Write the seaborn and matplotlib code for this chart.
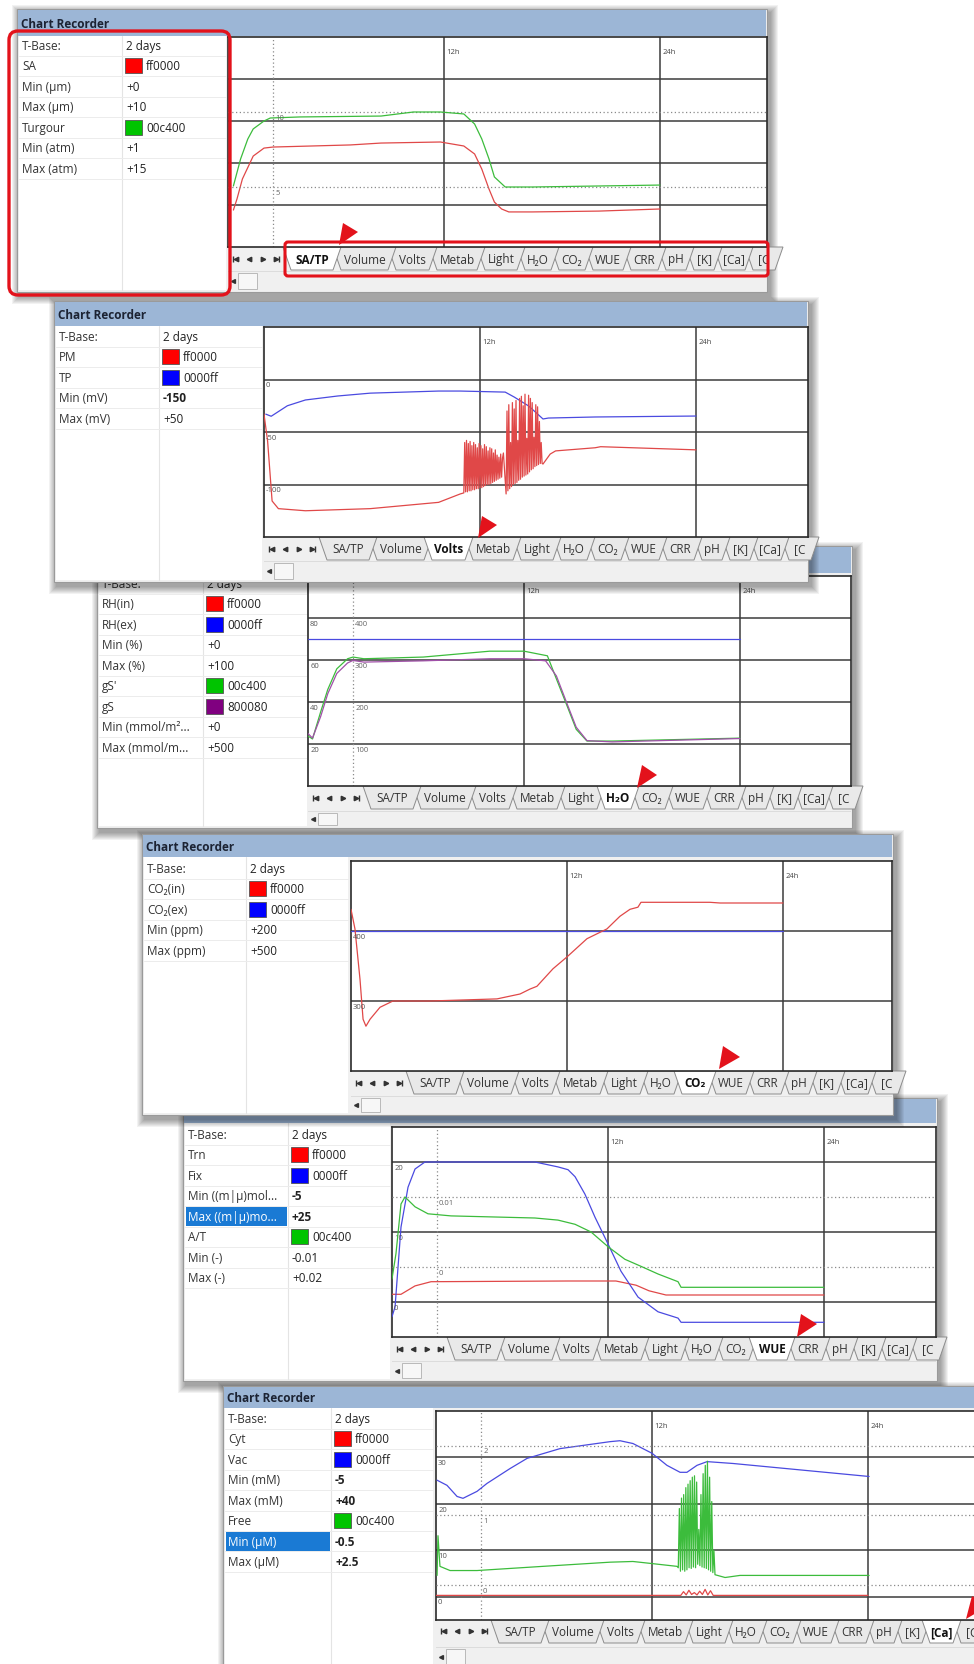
import numpy as np
import matplotlib
matplotlib.use("Agg")
import matplotlib.pyplot as plt
from matplotlib.patches import Rectangle, Polygon, FancyBboxPatch
import seaborn as sns

sns.set_style("white")
plt.rcParams["font.family"] = ["Open Sans", "DejaVu Sans"]

W, H = 974, 1665
PX_PER_H = 18.0

RED = "#e04848"
BLUE = "#4a4ae0"
GREEN = "#3cbc3c"
PURPLE = "#a050a8"
ANNOT = "#e3121b"

# ---------------- data (hours, value) ----------------
# SA/TP : SA in um, Turgour in atm
sa_h = [0.3, 0.5, 0.8, 1.4, 2.0, 2.5, 6.8, 8.5, 11.8, 13.1, 13.7, 14.1, 14.5, 14.8, 15.2, 15.6, 16.9, 20.6, 24.0]
sa_um = [1.76, 2.29, 3.24, 4.33, 4.71, 4.76, 4.86, 4.95, 5.0, 4.81, 4.43, 3.71, 2.76, 2.14, 1.81, 1.67, 1.67, 1.71, 1.81]
turg_h = [0.3, 0.7, 1.1, 1.4, 2.0, 2.35, 4.0, 8.5, 10.3, 11.8, 13.1, 13.7, 14.1, 14.5, 14.8, 15.4, 16.9, 24.0]
turg_atm = [5.07, 6.87, 8.2, 8.87, 9.4, 9.6, 9.67, 9.73, 10.0, 10.0, 9.87, 9.2, 8.2, 6.87, 5.67, 5.0, 5.0, 5.13]

# Volts : PM and TP in mV
tp_h = [0.1, 0.4, 1.3, 2.3, 4.1, 5.9, 9.7, 10.9, 13.4, 13.9, 14.7, 15.2, 15.5, 15.8, 18.4, 24.0]
tp_mv = [-33, -35, -25, -19.5, -15.7, -13, -11, -11, -12, -16.7, -25.2, -32.9, -37.6, -36.7, -35.7, -34.8]
pm_h = [0.0, 0.2, 0.45, 0.8, 2.3, 5.9, 9.7, 10.9,
        11.10, 11.15, 11.20, 11.25, 11.30, 11.35, 11.40, 11.45, 11.50, 11.55, 11.60, 11.65,
        11.70, 11.75, 11.80, 11.85, 11.90, 11.95, 12.00, 12.05, 12.10, 12.15, 12.20, 12.25,
        12.30, 12.35, 12.40, 12.45, 12.50, 12.55, 12.60, 12.65, 12.70, 12.75, 12.80, 12.85,
        12.90, 12.95, 13.00, 13.05, 13.10, 13.15, 13.20, 13.25, 13.30,
        13.45, 13.50, 13.55, 13.60, 13.65, 13.70, 13.75, 13.80, 13.85, 13.90, 13.95, 14.00,
        14.05, 14.10, 14.15, 14.20, 14.25, 14.30, 14.35, 14.40, 14.45, 14.50, 14.55, 14.60,
        14.65, 14.70, 14.75, 14.80, 14.85, 14.90, 14.95, 15.00, 15.05, 15.10, 15.15, 15.20,
        15.25, 15.30, 15.35, 15.40, 15.45,
        15.5, 15.9, 16.2, 18.4, 18.7, 24.0]
pm_mv = [-33, -58.6, -115.7, -123, -125, -123, -117, -109,
         -108, -60, -107, -58, -107, -61, -106, -59, -106, -63, -105, -60,
         -105, -62, -104, -65, -104, -61, -103, -63, -103, -66, -102, -62,
         -101, -64, -100, -68, -100, -65, -99, -66, -98, -70, -97, -67,
         -96, -72, -95, -74, -94, -71, -93, -75, -70,
         -109, -30, -106, -24, -104, -60, -102, -22, -100, -28, -99, -20,
         -98, -58, -96, -18, -95, -16, -93, -25, -92, -14, -91, -56,
         -90, -15, -88, -18, -86, -22, -85, -55, -83, -24, -82, -26,
         -81, -40, -80, -60, -80,
         -80.5, -71, -68, -65, -64, -67]

# H2O : RH(ex) in %, gS' and gS in mmol/m2/s
rhex_h = [0.0, 24.0]
rhex_pct = [70, 70]
gs1_h = [0.0, 0.25, 0.7, 1.1, 1.6, 2.2, 2.5, 3.1, 6.4, 10.1, 12.0, 13.3, 13.8, 14.4, 14.9, 15.5, 16.9, 24.0]
gs1_mmol = [119, 112, 176, 230, 279, 303, 307, 303, 307, 321, 321, 310, 255, 190, 135, 107, 107, 114]
gs_h = [0.0, 0.25, 0.7, 1.1, 1.6, 2.2, 2.5, 3.1, 6.4, 10.1, 12.0, 13.2, 13.8, 14.4, 14.9, 15.5, 16.9, 24.0]
gs_mmol = [125, 114, 165, 220, 268, 293, 299, 295, 298, 303, 303, 298, 262, 195, 140, 108, 105, 113]

# CO2 : ppm
co2ex_h = [0.0, 24.0]
co2ex_ppm = [400, 400]
co2in_h = [0, 0.22, 0.5, 0.67, 0.83, 1.06, 1.61, 2.33, 4.39, 8.11, 9.39, 9.94, 10.33, 11.22, 12.0,
           13.11, 14.22, 14.94, 15.5, 15.94, 16.11, 19.94, 20.5, 24.0]
co2in_ppm = [431, 403, 331, 274, 264, 274, 291, 300, 300, 303, 310, 317, 321, 346, 363,
             389, 403, 421, 431, 434, 441, 441, 440, 440]

# WUE : Trn and Fix in (m|u)mol, A/T ratio
fix_h = [0.0, 0.17, 0.5, 0.89, 1.28, 1.83, 7.94, 9.22, 9.78, 10.17, 10.72, 11.28, 12.0, 12.72, 13.67, 14.78, 15.89, 16.06, 24.0]
fix_val = [-2.1, -0.7, 10.7, 16.4, 19, 20, 20, 19.3, 18.9, 17.9, 15.4, 12.1, 8.3, 4.4, 0.7, -1.4, -2.3, -2.9, -2.9]
trn_h = [0.0, 0.5, 1.28, 2.17, 9.78, 12.44, 13.56, 14.28, 15.22, 24.0]
trn_val = [1.1, 1.1, 2.3, 2.9, 3.0, 3.0, 2.4, 1.6, 1.0, 1.0]
at_h = [0.0, 0.22, 0.5, 0.72, 1.28, 2.0, 3.28, 7.94, 9.22, 10.17, 11.06, 12.0, 12.94, 13.83, 14.78, 15.89, 16.06, 24.0]
at_val = [-0.0017, 0.0019, 0.009, 0.010, 0.0086, 0.0076, 0.0073, 0.0070, 0.0067, 0.0061, 0.0050,
          0.0029, 0.0011, 0.0001, -0.0010, -0.0021, -0.0029, -0.0029]

# [Ca] : Cyt and Vac in mM, Free in uM
vac_h = [0.06, 0.61, 1.17, 1.5, 2.28, 2.83, 4.11, 5.06, 6.89, 9.67, 10.22, 10.94, 12.0, 12.83, 13.56,
         13.94, 14.5, 15.06, 16.5, 24.06]
vac_mm = [25.1, 24.0, 21.6, 21.2, 22.7, 24.4, 27.6, 29.8, 31.9, 33.4, 33.6, 33.0, 30.9, 28.3, 26.8,
          26.8, 28.3, 29.1, 28.7, 25.9]
cyt_h = [0.0, 13.6, 13.75, 13.9, 14.05, 14.2, 14.35, 14.5, 14.65, 14.8, 14.95, 15.1, 15.25, 15.4, 24.0]
cyt_mm = [0.3, 0.3, 1.1, 0.4, 1.4, 0.5, 0.9, 0.4, 1.2, 0.5, 1.6, 0.4, 1.3, 0.3, 0.3]
free_h = [0.06, 0.11, 0.22, 0.78, 2.28, 5.94, 9.67, 10.94, 12.0, 13.39,
          13.46, 13.52, 13.58, 13.64, 13.70, 13.76, 13.82, 13.88, 13.94, 14.00, 14.06, 14.12,
          14.18, 14.24, 14.30, 14.36, 14.42, 14.48, 14.54, 14.60, 14.66, 14.72, 14.78, 14.84,
          14.90, 14.96, 15.02, 15.08, 15.14, 15.20, 15.26, 15.32, 15.38, 15.44, 15.50,
          16.06, 16.89, 24.06]
free_um = [0.14, 0.71, 0.27, 0.21, 0.21, 0.27, 0.33, 0.34, 0.31, 0.27,
           0.25, 1.10, 0.20, 1.25, 0.22, 1.30, 0.20, 1.40, 0.22, 1.45, 0.25, 1.50,
           0.24, 1.55, 0.26, 1.57, 0.25, 1.48, 0.30, 0.80, 0.28, 1.30, 0.26, 1.60,
           0.25, 1.72, 0.24, 1.78, 0.22, 1.55, 0.20, 1.20, 0.18, 0.50, 0.15,
           0.11, 0.14, 0.14]

tab_names = ["SA/TP", "Volume", "Volts", "Metab", "Light", "H₂O", "CO₂", "WUE", "CRR", "pH", "[K]", "[Ca]", "[C"]
tab_widths = [50, 55, 41, 48, 40, 34, 34, 38, 35, 28, 28, 31, 30]


def row(label, value, swatch=None, bold=False, hl=False):
    return (label, value, swatch, bold, hl)


rows_satp = [row("T-Base:", "2 days"), row("SA", "ff0000", "#ff0000"), row("Min (µm)", "+0"),
             row("Max (µm)", "+10"), row("Turgour", "00c400", "#00c400"), row("Min (atm)", "+1"),
             row("Max (atm)", "+15")]
rows_volts = [row("T-Base:", "2 days"), row("PM", "ff0000", "#ff0000"), row("TP", "0000ff", "#0000ff"),
              row("Min (mV)", "-150", bold=True), row("Max (mV)", "+50")]
rows_h2o = [row("T-Base:", "2 days"), row("RH(in)", "ff0000", "#ff0000"), row("RH(ex)", "0000ff", "#0000ff"),
            row("Min (%)", "+0"), row("Max (%)", "+100"), row("gS'", "00c400", "#00c400"),
            row("gS", "800080", "#800080"), row("Min (mmol/m²...", "+0"), row("Max (mmol/m...", "+500")]
rows_co2 = [row("T-Base:", "2 days"), row("CO₂(in)", "ff0000", "#ff0000"), row("CO₂(ex)", "0000ff", "#0000ff"),
            row("Min (ppm)", "+200"), row("Max (ppm)", "+500")]
rows_wue = [row("T-Base:", "2 days"), row("Trn", "ff0000", "#ff0000"), row("Fix", "0000ff", "#0000ff"),
            row("Min ((m|µ)mol...", "-5", bold=True), row("Max ((m|µ)mo...", "+25", bold=True, hl=True),
            row("A/T", "00c400", "#00c400"), row("Min (-)", "-0.01"), row("Max (-)", "+0.02")]
rows_ca = [row("T-Base:", "2 days"), row("Cyt", "ff0000", "#ff0000"), row("Vac", "0000ff", "#0000ff"),
           row("Min (mM)", "-5", bold=True), row("Max (mM)", "+40", bold=True),
           row("Free", "00c400", "#00c400"), row("Min (µM)", "-0.5", bold=True, hl=True),
           row("Max (µM)", "+2.5", bold=True)]

# window layout in pixels (left, top, right, bottom)
panels = [
    dict(z=1, win=(17, 10, 767, 293), title_b=37, col=122, grid_r=226, row_top=36,
         chart=(228, 38, 767, 248), tab_b=272, selected="SA/TP", rows=rows_satp, key="satp"),
    dict(z=5, win=(54, 302, 808, 583), title_b=327, col=159, grid_r=262, row_top=327,
         chart=(264, 328, 808, 538), tab_b=562, selected="Volts", rows=rows_volts, key="volts"),
    dict(z=3, win=(97, 547, 852, 829), title_b=574, col=203, grid_r=307, row_top=574,
         chart=(308, 577, 851, 787), tab_b=812, selected="H₂O", rows=rows_h2o, key="h2o"),
    dict(z=9, win=(142, 835, 893, 1116), title_b=858, col=246, grid_r=348, row_top=859,
         chart=(351, 862, 892, 1072), tab_b=1097, selected="CO₂", rows=rows_co2, key="co2"),
    dict(z=7, win=(183, 1099, 937, 1382), title_b=1124, col=288, grid_r=390, row_top=1125,
         chart=(392, 1128, 936, 1338), tab_b=1362, selected="WUE", rows=rows_wue, key="wue"),
    dict(z=11, win=(223, 1387, 995, 1700), title_b=1409, col=331, grid_r=433, row_top=1409,
         chart=(436, 1412, 978, 1621), tab_b=1648, selected="[Ca]", rows=rows_ca, key="ca"),
]

charts = {
    "satp": dict(ylim=(0, 10), grid=[2, 4, 6, 8], left=[], twin=(1, 15), dotted=[5, 10], cursor=2.5,
                 cursor_labels=[(10, "10"), (5, "5")],
                 main=[(sa_h, sa_um, RED)], sec=[(turg_h, turg_atm, GREEN)]),
    "volts": dict(ylim=(-150, 50), grid=[-100, -50, 0], left=[(0, "0"), (-50, "-50"), (-100, "-100")],
                  twin=None, dotted=[], cursor=None, cursor_labels=[],
                  main=[(tp_h, tp_mv, BLUE), (pm_h, pm_mv, RED)], sec=[]),
    "h2o": dict(ylim=(0, 100), grid=[20, 40, 60, 80], left=[(80, "80"), (60, "60"), (40, "40"), (20, "20")],
                twin=(0, 500), dotted=[], cursor=2.5,
                cursor_labels=[(400, "400"), (300, "300"), (200, "200"), (100, "100")],
                main=[(rhex_h, rhex_pct, BLUE)], sec=[(gs1_h, gs1_mmol, GREEN), (gs_h, gs_mmol, PURPLE)]),
    "co2": dict(ylim=(200, 500), grid=[300, 400], left=[(400, "400"), (300, "300")],
                twin=None, dotted=[], cursor=None, cursor_labels=[],
                main=[(co2ex_h, co2ex_ppm, BLUE), (co2in_h, co2in_ppm, RED)], sec=[]),
    "wue": dict(ylim=(-5, 25), grid=[0, 10, 20], left=[(20, "20"), (10, "10"), (0, "0")],
                twin=(-0.01, 0.02), dotted=[0, 0.01], cursor=2.5, cursor_labels=[(0.01, "0.01"), (0, "0")],
                main=[(trn_h, trn_val, RED), (fix_h, fix_val, BLUE)], sec=[(at_h, at_val, GREEN)]),
    "ca": dict(ylim=(-5, 40), grid=[0, 10, 20, 30], left=[(30, "30"), (20, "20"), (10, "10"), (0, "0")],
               twin=(-0.5, 2.5), dotted=[0, 1, 2], cursor=2.5, cursor_labels=[(2, "2"), (1, "1"), (0, "0")],
               main=[(vac_h, vac_mm, BLUE), (cyt_h, cyt_mm, RED)], sec=[(free_h, free_um, GREEN)]),
}

fig = plt.figure(figsize=(W / 100, H / 100), dpi=100)
fig.patch.set_facecolor("white")


def canvas(z):
    ax = fig.add_axes([0, 0, 1, 1])
    ax.set_xlim(0, W)
    ax.set_ylim(H, 0)
    ax.axis("off")
    ax.set_zorder(z)
    return ax


def draw_window(cax, p):
    x0, y0, x1, y1 = p["win"]
    cl, ct, cr, cb = p["chart"]
    # drop shadow, heavier to the right and below
    for k in range(1, 9):
        cax.add_patch(Rectangle((x0 - k + 3, y0 - k + 4), x1 - x0 + 2 * k, y1 - y0 + 2 * k,
                                fc="black", ec="none", alpha=0.05, clip_on=False))
    cax.add_patch(Rectangle((x0, y0), x1 - x0, y1 - y0, fc="#f0f0f0", ec="#9a9a9a", lw=0.8))
    # title bar
    cax.add_patch(Rectangle((x0 + 1, y0 + 1), x1 - x0 - 2, p["title_b"] - y0 - 1, fc="#9cb6d6", ec="none"))
    cax.text(x0 + 4, (y0 + p["title_b"]) / 2 + 1, "Chart Recorder", fontsize=8.5, fontweight="bold",
             color="#1c2333", va="center")
    # property grid
    col, gr, top = p["col"], p["grid_r"], p["title_b"]
    rh = 20.5
    cax.add_patch(Rectangle((x0 + 2, top), gr - x0 - 2, y1 - 2 - top, fc="white", ec="none"))
    cax.plot([col, col], [top, y1 - 2], color="#e4e4e4", lw=0.8)
    for i, (label, value, swatch, bold, hl) in enumerate(p["rows"]):
        ry = p["row_top"] + i * rh
        yc = ry + rh / 2
        cax.plot([x0 + 2, gr], [ry + rh, ry + rh], color="#ececec", lw=0.7)
        if hl:
            cax.add_patch(Rectangle((x0 + 3, ry + 1), col - x0 - 4, rh - 2, fc="#1a7ad4", ec="none"))
        cax.text(x0 + 5, yc, label, fontsize=8.5, color="white" if hl else "#333333", va="center")
        vx = col + 4
        if swatch:
            cax.add_patch(Rectangle((col + 3, yc - 7.5), 17, 15, fc=swatch, ec="#555555", lw=0.6))
            vx = col + 24
        cax.text(vx, yc, value, fontsize=8.5, color="#222222", va="center",
                 fontweight="bold" if bold else "normal")
    # tab bar and scroll row
    tb = p["tab_b"]
    cax.add_patch(Rectangle((cl, cb), x1 - cl - 1, y1 - cb - 1, fc="#f0f0f0", ec="none"))
    clip = Rectangle((cl, cb), min(x1, cr) - cl, tb - cb, transform=cax.transData)
    bounds = cl + 59 + np.concatenate([[0], np.cumsum(tab_widths)])
    top_t, bot_t = cb, cb + 23
    sel = tab_names.index(p["selected"])
    order = [j for j in reversed(range(len(tab_names))) if j != sel] + [sel]
    for i in order:
        a, b = bounds[i], bounds[i + 1]
        poly = Polygon([(a - 4, top_t), (b + 4, top_t), (b - 4, bot_t), (a + 4, bot_t)], closed=True,
                       fc="white" if i == sel else "#e9e9e9", ec="#8c8c8c", lw=0.7)
        poly.set_clip_path(clip)
        cax.add_patch(poly)
        t = cax.text((a + b) / 2, (top_t + bot_t) / 2 + 0.5, tab_names[i], ha="center", va="center",
                     fontsize=8.5, fontweight="bold" if i == sel else "normal",
                     color="#111111" if i == sel else "#333333")
        t.set_clip_path(clip)
    yc = (top_t + bot_t) / 2
    cax.plot([cl + 5], [yc], marker="|", ms=4, color="#333333")
    cax.plot([cl + 8, cl + 21], [yc, yc], ls="none", marker="<", ms=3.2, color="#333333")
    cax.plot([cl + 35, cl + 48], [yc, yc], ls="none", marker=">", ms=3.2, color="#333333")
    cax.plot([cl + 51], [yc], marker="|", ms=4, color="#333333")
    cax.add_patch(Rectangle((cl, tb), x1 - cl - 1, 1, fc="#dcdcdc", ec="none"))
    cax.add_patch(Rectangle((cl + 10, tb + 2), 19, min(y1 - tb - 5, 17), fc="#f7f7f7", ec="#b0b0b0", lw=0.6))
    cax.plot([cl + 5], [tb + 2 + min(y1 - tb - 5, 17) / 2], marker="<", ms=2.8, color="#333333")


def draw_chart(p, spec):
    l, t, r, b = p["chart"]
    ax = fig.add_axes([l / W, 1 - b / H, (r - l) / W, (b - t) / H])
    ax.set_zorder(p["z"] + 1)
    ax.set_facecolor("white")
    for hh, vv, c in spec["main"]:
        sns.lineplot(x=hh, y=vv, ax=ax, color=c, linewidth=0.9, estimator=None, sort=False,
                     errorbar=None, legend=False, zorder=3)
    ax.set_xlim(0, (r - l) / PX_PER_H)
    ax.set_ylim(*spec["ylim"])
    ax.set_xticks([])
    ax.set_yticks([])
    ax.set_xlabel("")
    ax.set_ylabel("")
    for s in ax.spines.values():
        s.set_color("#2b2b2b")
        s.set_linewidth(1.2)
    for v in spec["grid"]:
        ax.axhline(v, color="#3c3c3c", lw=1.1, zorder=0.5)
    for hh in (12, 24):
        ax.axvline(hh, color="#3c3c3c", lw=1.1, zorder=0.5)
        ax.annotate(f"{hh}h", xy=(hh, 1), xycoords=ax.get_xaxis_transform(), xytext=(1.5, -10.5),
                    textcoords="offset points", fontsize=5.5, color="#444444", va="center")
    for v, lbl in spec["left"]:
        ax.annotate(lbl, xy=(0, v), xytext=(1.5, -1.2), textcoords="offset points",
                    fontsize=5.5, color="#555555", va="top")
    if spec["cursor"] is not None:
        ax.axvline(spec["cursor"], color="#8a8a8a", ls=(0, (1, 2)), lw=0.9, zorder=0.6)
    if spec["twin"] is not None:
        tw = ax.twinx()
        tw.set_zorder(p["z"] + 1.5)
        for hh, vv, c in spec["sec"]:
            sns.lineplot(x=hh, y=vv, ax=tw, color=c, linewidth=0.9, estimator=None, sort=False,
                         errorbar=None, legend=False, zorder=3)
        tw.set_ylim(*spec["twin"])
        tw.axis("off")
        for v in spec["dotted"]:
            tw.axhline(v, color="#8a8a8a", ls=(0, (1, 2)), lw=0.9, zorder=1)
        for v, lbl in spec["cursor_labels"]:
            tw.annotate(lbl, xy=(spec["cursor"], v), xytext=(1.5, -1.2), textcoords="offset points",
                        fontsize=5.5, color="#666666", va="top")


for p in panels:
    cax = canvas(p["z"])
    draw_window(cax, p)
    draw_chart(p, charts[p["key"]])

# red call-outs on top
ov = canvas(50)
ov.add_patch(FancyBboxPatch((9, 32), 221, 264, boxstyle="round,pad=0,rounding_size=9",
                            fc="none", ec=ANNOT, lw=2.4))
ov.add_patch(FancyBboxPatch((285, 243), 483, 34, boxstyle="round,pad=0,rounding_size=3",
                            fc="none", ec=ANNOT, lw=2.2))
pointers = [
    [(339, 246), (343, 224), (358, 233)],
    [(478, 539), (482, 517), (497, 526)],
    [(637, 789), (642, 766), (657, 776)],
    [(719, 1070), (723, 1047), (740, 1058)],
    [(797, 1338), (801, 1315), (817, 1325)],
    [(966, 1620), (972, 1597), (988, 1607)],
]
for tri in pointers:
    ov.add_patch(Polygon(tri, closed=True, fc=ANNOT, ec="none"))

fig.savefig("out.png", dpi=100, facecolor="white")
